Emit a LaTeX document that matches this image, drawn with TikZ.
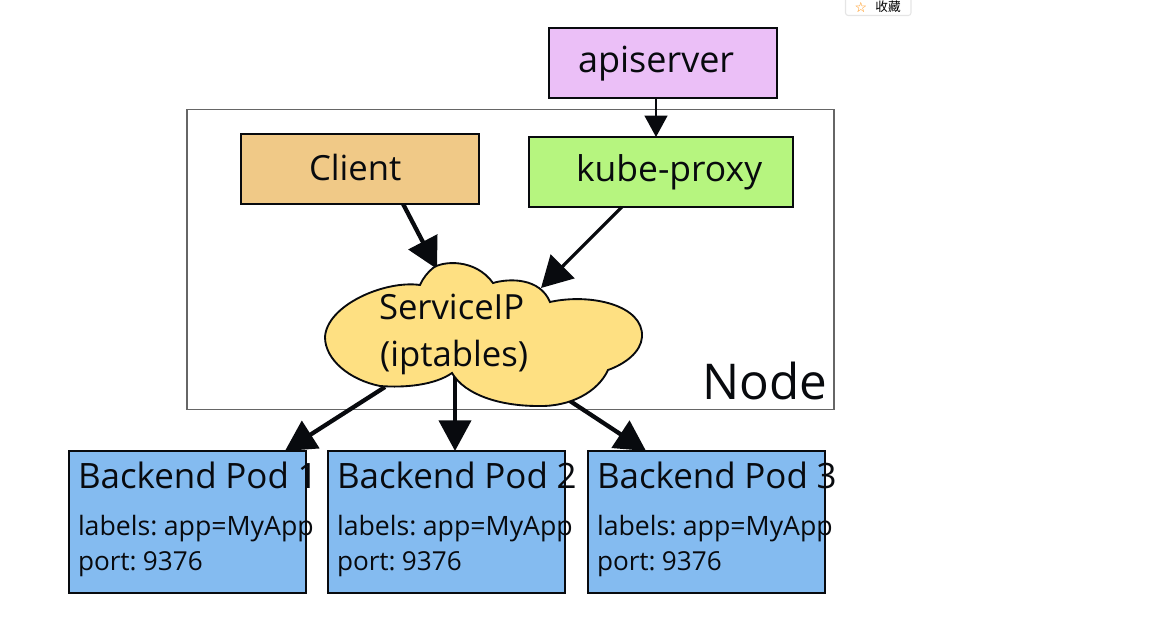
\documentclass[tikz,border=0pt]{standalone}
\usepackage{fontspec}
\setmainfont[WordSpace=0.6]{Open Sans}
\newfontfamily\titlefont[WordSpace=0.95]{Open Sans}
\newfontfamily\cjk{Noto Sans CJK SC}
\newfontfamily\dejavu{DejaVu Sans}
\usetikzlibrary{arrows.meta,calc}
\definecolor{apicol}{HTML}{EBBFF7}
\definecolor{clientcol}{HTML}{F0C987}
\definecolor{proxycol}{HTML}{B6F57F}
\definecolor{podcol}{HTML}{84BBF0}
\definecolor{cloudcol}{HTML}{FEE082}
\definecolor{inkcol}{HTML}{080A0E}
\tikzset{
  x=0.75pt,y=-0.75pt,
  box/.style={draw=inkcol,line width=1.5pt,anchor=north west,inner sep=0pt,outer sep=0pt},
  txt/.style={inner sep=0pt,outer sep=0pt,text=inkcol,anchor=base west},
  bigarrow/.style={line width=3.2pt,inkcol,-{Triangle[length=23pt,width=24pt]}},
  midarrow/.style={line width=2.4pt,inkcol,-{Triangle[length=23pt,width=25pt]}},
  thinarrow/.style={line width=1.7pt,inkcol,-{Triangle[length=16pt,width=17pt]}},
}
\begin{document}
\begin{tikzpicture}
\useasboundingbox (0,0) rectangle (1159,634);
\clip (0,0) rectangle (1159,634);
% browser widget
\draw[draw=black!10,fill=white,line width=0.8pt,rounded corners=2pt] (845.5,-6) rectangle (911,15.5);
\node[inner sep=0pt,text=orange!90!yellow,font=\dejavu\fontsize{10.5pt}{10.5pt}\selectfont] (star) at (861,7) {☆};
\node[inner sep=0pt,font=\cjk\fontsize{9.5pt}{9.5pt}\selectfont] (fav) at (888,7) {收藏};
% Node frame
\node[draw=black!60,line width=0.9pt,anchor=north west,minimum width=485.25pt,minimum height=225pt,inner sep=0pt,outer sep=0pt] (nodebox) at (187,109.5) {};
\node[txt,font=\fontsize{37pt}{37pt}\selectfont] (nodelabel) at (702,399) {Node};
% boxes
\node[box,fill=apicol,minimum width=171pt,minimum height=52.5pt] (api) at (549,28) {};
\node[box,fill=clientcol,minimum width=178.5pt,minimum height=52.5pt] (client) at (241,134) {};
\node[box,fill=proxycol,minimum width=198pt,minimum height=52.5pt] (proxy) at (529,137) {};
\node[box,fill=podcol,minimum width=177.75pt,minimum height=106.5pt] (pod1) at (69,451) {};
\node[box,fill=podcol,minimum width=177.75pt,minimum height=106.5pt] (pod2) at (328,451) {};
\node[box,fill=podcol,minimum width=177.75pt,minimum height=106.5pt] (pod3) at (588,451) {};
% cloud anchor coordinates
\coordinate (cloudA) at (437,269);
\coordinate (cloudB) at (541,288);
\coordinate (cloudC) at (385,387);
\coordinate (cloudD) at (455,370);
\coordinate (cloudE) at (570,401);
% arrows
\draw[thinarrow] (api.south -| 656,0) -- (proxy.north -| 656,0);
\draw[bigarrow] ($(client.south west)!0.681!(client.south east)$) -- (cloudA);
\draw[midarrow] ($(proxy.south west)!0.352!(proxy.south east)$) -- (cloudB);
\draw[bigarrow] (cloudC) -- ($(pod1.north west)!0.911!(pod1.north east)$);
\draw[bigarrow] (cloudD) -- (pod2.north -| cloudD);
\draw[bigarrow] (cloudE) -- ($(pod3.north west)!0.245!(pod3.north east)$);
% cloud
\path[draw=inkcol,fill=cloudcol,line width=1.4pt]
  (433,268) .. controls (442,261) and (475,258) .. (493,283)
  .. controls (510,278) and (540,278) .. (550,302)
  .. controls (590,293) and (644,305) .. (642,337)
  .. controls (641,352) and (625,364) .. (608,370)
  .. controls (598,392) and (570,407) .. (538,406)
  .. controls (500,406) and (465,395) .. (452,373)
  .. controls (435,385) and (405,388) .. (380,386)
  .. controls (350,380) and (325,360) .. (325,337)
  .. controls (327,305) and (385,280) .. (420,285)
  .. controls (423,278) and (428,272) .. (433,268) -- cycle;
\node[txt,font=\fontsize{26pt}{26pt}\selectfont] (svc) at (379,320) {ServiceIP};
\node[txt,font=\fontsize{26pt}{26pt}\selectfont] (ipt) at (380,366) {(iptables)};
% box labels
\node[txt,font=\fontsize{27pt}{27pt}\selectfont] (apilabel) at (578,73) {apiserver};
\node[txt,font=\fontsize{26pt}{26pt}\selectfont] (clientlabel) at (309,181) {Client};
\node[txt,font=\fontsize{26.6pt}{26pt}\selectfont] (proxylabel) at (576,182) {kube-proxy};
\foreach \n/\x in {1/78,2/337,3/597}{
  \node[txt,font=\titlefont\fontsize{26.2pt}{26pt}\selectfont] (title\n) at (\x,488) {Backend Pod \n};
  \node[txt,font=\fontsize{20pt}{20pt}\selectfont] (labels\n) at (\x,535) {labels: app=MyApp};
  \node[txt,font=\fontsize{19.6pt}{20pt}\selectfont] (port\n) at (\x,570) {port: 9376};
}
\end{tikzpicture}
\end{document}
